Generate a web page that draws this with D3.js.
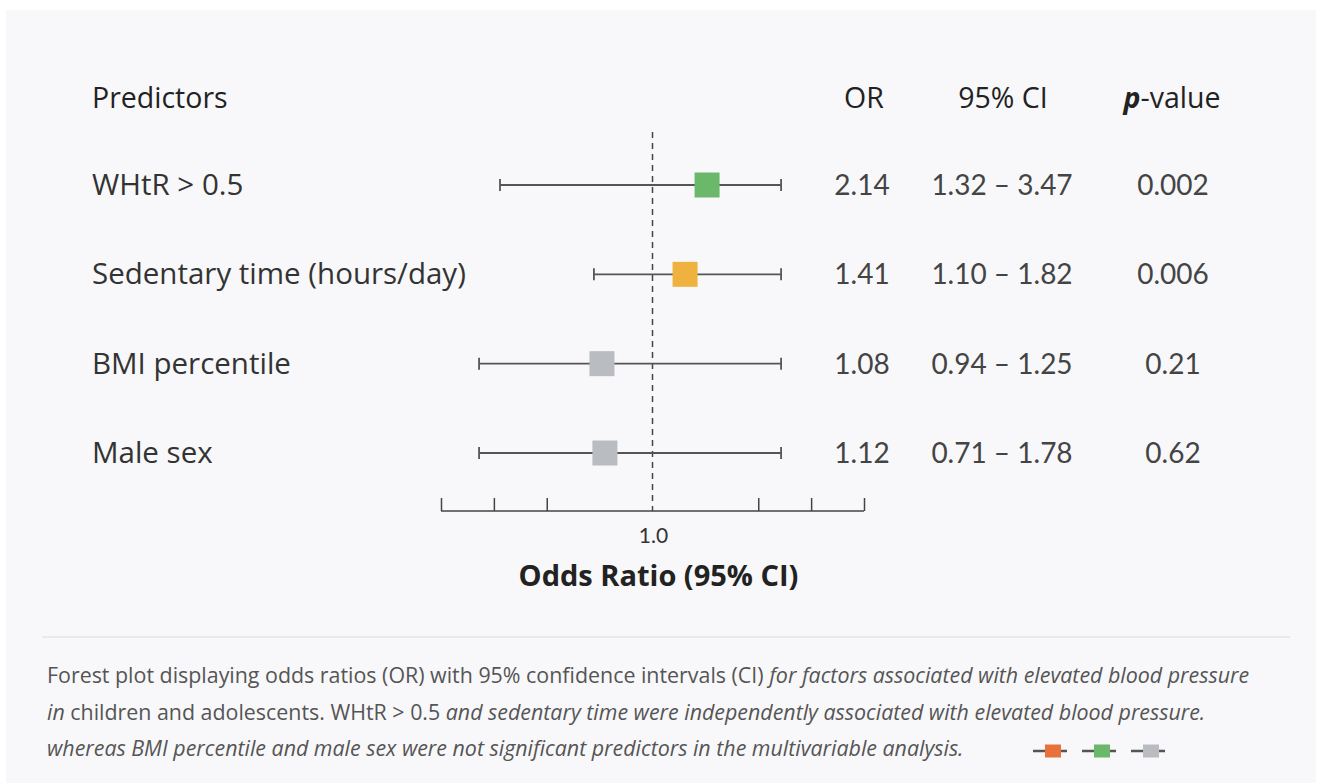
<!DOCTYPE html>
<html>
<head>
<meta charset="utf-8">
<script src="https://cdn.jsdelivr.net/npm/d3@7"></script>
<style>
  body { margin: 0; background: #ffffff; }
  svg text { font-family: "Open Sans", Lato, sans-serif; }
  svg text.num { font-family: Lato, "Open Sans", sans-serif; }
</style>
</head>
<body>
<div id="chart"></div>
<script>
// table rows
var predictors = ["WHtR > 0.5", "Sedentary time (hours/day)", "BMI percentile", "Male sex"];
var orText = ["2.14", "1.41", "1.08", "1.12"];
var ciText = ["1.32 \u2013 3.47", "1.10 \u2013 1.82", "0.94 \u2013 1.25", "0.71 \u2013 1.78"];
var pText = ["0.002", "0.006", "0.21", "0.62"];

// plotted positions (units of the axis, 1.0 = reference line)
var estimate = [1.258, 1.154, 0.761, 0.775];
var lower = [0.279, 0.723, 0.180, 0.180];
var upper = [1.608, 1.608, 1.608, 1.608];
var colors = ["#6bb86a", "#f0b23f", "#b9bcc1", "#b9bcc1"];

var tickVals = [0, 0.25, 0.5, 1.0, 1.5, 1.75, 2.0];
var legendColors = ["#e8703a", "#6bb86a", "#b9bcc1"];

var W = 1321, H = 783;
var svg = d3.select("#chart").append("svg")
    .attr("width", W)
    .attr("height", H);

svg.append("rect")
    .attr("x", 6).attr("y", 10)
    .attr("width", 1310).attr("height", 773)
    .attr("fill", "#f8f8fa");

var x = d3.scaleLinear().domain([0, 2]).range([441, 864]);
var y = d3.scalePoint().domain(d3.range(predictors.length)).range([185, 453]);

// headers
function header(xp, anchor) {
    return svg.append("text").attr("x", xp).attr("y", 108)
        .attr("text-anchor", anchor)
        .attr("font-size", 28.5).attr("font-weight", 500).attr("fill", "#222");
}
header(92, "start").text("Predictors");
header(864, "middle").text("OR");
header(1003, "middle").text("95% CI");
var ph = header(1172, "middle");
ph.append("tspan").attr("font-style", "italic").attr("font-weight", 700).text("p");
ph.append("tspan").text("-value");

// reference line
svg.append("line")
    .attr("x1", x(1)).attr("x2", x(1))
    .attr("y1", 132).attr("y2", 511)
    .attr("stroke", "#444").attr("stroke-width", 1.5)
    .attr("stroke-dasharray", "6,5");

var rows = svg.selectAll("g.row").data(predictors).enter()
    .append("g").attr("class", "row");

rows.append("text")
    .attr("x", 92).attr("y", function(d, i) { return y(i) + 10; })
    .attr("font-size", 29.5).attr("fill", "#333")
    .text(function(d) { return d; });

rows.append("line")
    .attr("x1", function(d, i) { return x(lower[i]); })
    .attr("x2", function(d, i) { return x(upper[i]); })
    .attr("y1", function(d, i) { return y(i); })
    .attr("y2", function(d, i) { return y(i); })
    .attr("stroke", "#555").attr("stroke-width", 1.8);

[lower, upper].forEach(function(arr) {
    rows.append("line")
        .attr("x1", function(d, i) { return x(arr[i]); })
        .attr("x2", function(d, i) { return x(arr[i]); })
        .attr("y1", function(d, i) { return y(i) - 6; })
        .attr("y2", function(d, i) { return y(i) + 6; })
        .attr("stroke", "#555").attr("stroke-width", 1.8);
});

rows.append("rect")
    .attr("x", function(d, i) { return x(estimate[i]) - 12.5; })
    .attr("y", function(d, i) { return y(i) - 12.5; })
    .attr("width", 25).attr("height", 25)
    .attr("fill", function(d, i) { return colors[i]; });

rows.append("text").attr("class", "num")
    .attr("x", 862).attr("y", function(d, i) { return y(i) + 10; })
    .attr("text-anchor", "middle").attr("font-size", 28).attr("fill", "#444")
    .text(function(d, i) { return orText[i]; });
rows.append("text").attr("class", "num")
    .attr("x", 1002).attr("y", function(d, i) { return y(i) + 10; })
    .attr("text-anchor", "middle").attr("font-size", 28).attr("fill", "#444")
    .text(function(d, i) { return ciText[i]; });
rows.append("text").attr("class", "num")
    .attr("x", 1173).attr("y", function(d, i) { return y(i) + 10; })
    .attr("text-anchor", "middle").attr("font-size", 28).attr("fill", "#444")
    .text(function(d, i) { return pText[i]; });

// axis
var axis = d3.axisTop(x).tickValues(tickVals).tickSize(13).tickFormat("");
var ax = svg.append("g").attr("transform", "translate(0,511)").call(axis);
ax.select(".domain").attr("stroke", "#444").attr("stroke-width", 1.5)
    .attr("d", "M" + x(0) + ",0H" + x(2));
ax.selectAll(".tick line").attr("stroke", "#444").attr("stroke-width", 1.5);
ax.selectAll(".tick").filter(function(d) { return d === 1; }).select("line").remove();

svg.append("text").attr("class", "num").attr("x", x(1) + 1).attr("y", 543).attr("text-anchor", "middle")
    .attr("font-size", 21).attr("fill", "#333").text(d3.format(".1f")(1));
svg.append("text").attr("x", x(1) + 6).attr("y", 586).attr("text-anchor", "middle")
    .attr("font-size", 29).attr("font-weight", 700).attr("fill", "#222")
    .text("Odds Ratio (95% CI)");

// caption
svg.append("line").attr("x1", 42).attr("x2", 1290).attr("y1", 637).attr("y2", 637)
    .attr("stroke", "#d9d9dc").attr("stroke-width", 1.2);

var capLines = [
    [["Forest plot displaying odds ratios (OR) with 95% confidence intervals (CI) ", false], ["for factors associated with elevated blood pressure", true]],
    [["in", true], [" children and adolescents. WHtR > 0.5 ", false], ["and sedentary time were independently associated with elevated blood pressure.", true]],
    [["whereas BMI percentile and male sex were not significant predictors in the multivariable analysis.", true]]
];
capLines.forEach(function(parts, li) {
    var t = svg.append("text").attr("x", 47).attr("y", 683 + li * 36.5)
        .attr("font-size", 21.4).attr("fill", "#555");
    parts.forEach(function(p) {
        t.append("tspan").attr("font-style", p[1] ? "italic" : "normal").text(p[0]);
    });
});

// legend glyphs
var lx = d3.scalePoint().domain(d3.range(legendColors.length)).range([1049, 1147]);
var lg = svg.selectAll("g.lg").data(legendColors).enter().append("g")
    .attr("transform", function(d, i) { return "translate(" + lx(i) + ",751)"; });
lg.append("line").attr("x1", -16).attr("x2", 18).attr("y1", 0).attr("y2", 0)
    .attr("stroke", "#555").attr("stroke-width", 2.5);
lg.append("rect").attr("x", -4).attr("y", -6.5).attr("width", 16).attr("height", 13)
    .attr("fill", function(d) { return d; });
</script>
</body>
</html>
